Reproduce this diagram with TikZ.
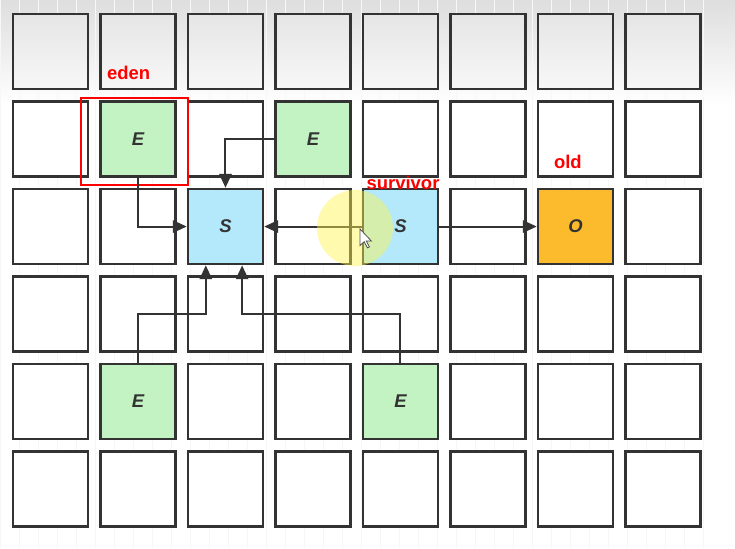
\documentclass[tikz,border=0pt]{standalone}
\usepackage{fontspec}
\setmainfont{Liberation Sans}
\usetikzlibrary{arrows.meta}
\definecolor{edenfill}{HTML}{C3F2C3}
\definecolor{survfill}{HTML}{B3E9FA}
\definecolor{oldfill}{HTML}{FBBB2C}
\definecolor{boxline}{HTML}{333333}
\tikzset{
  cell/.style={draw=boxline, line width=1.7pt, minimum size=1.714cm, inner sep=0pt,
    font=\fontsize{12}{14}\selectfont\bfseries\itshape, text=boxline},
  arr/.style={draw=boxline, line width=1.3pt, -{Triangle[length=9pt,width=8pt]}},
  tag/.style={text=red, font=\fontsize{12}{14}\selectfont\bfseries, inner sep=0pt, anchor=base}
}
\begin{document}
\begin{tikzpicture}[x=2cm,y=-2cm]
        \useasboundingbox (0,0) rectangle (8.4,6.263);
        \fill[white] (0,0) rectangle (8.4,6.263);
        \shade[top color=black!13, bottom color=white] (0,0) rectangle (8.4,1.2);
        \draw[black!3, line width=0.4pt, step=0.2171] (0,0) grid (8.17,6.263);
        % heap cells
        \foreach \i in {0,...,7} {
            \node[cell, top color=black!10, bottom color=black!3] (c-\i-0) at (0.577+\i,0.589) {};
            \foreach \j in {1,...,5}
                \node[cell, fill=white] (c-\i-\j) at (0.577+\i,0.589+\j) {};
        }
        \node[cell, fill=edenfill] (e1) at (c-1-1) {E};
        \node[cell, fill=edenfill] (e2) at (c-3-1) {E};
        \node[cell, fill=survfill] (s1) at (c-2-2) {S};
        \node[cell, fill=survfill] (s2) at (c-4-2) {S};
        \node[cell, fill=oldfill] (o1) at (c-6-2) {O};
        \node[cell, fill=edenfill] (e3) at (c-1-4) {E};
        \node[cell, fill=edenfill] (e4) at (c-4-4) {E};
        % labels
        \node[tag] (edenlbl) at (1.469,0.903) {eden};
        \node[tag] (survlbl) at (4.606,2.16) {survivor};
        \node[tag] (oldlbl) at (6.49,1.924) {old};
        \draw[red, line width=1.4pt] (0.926,1.117) rectangle (2.149,2.114);
        % copies
        \draw[arr] (e1.south) |- (s1.west);
        \draw[arr] (e2.west) -| (s1.north);
        \draw[arr] (s2.west) -- (s1.east);
        \draw[arr] (s2.east) -- (o1.west);
        \coordinate (s1l) at ([xshift=-0.45cm]s1.south);
        \coordinate (s1r) at ([xshift=0.38cm]s1.south);
        \draw[arr] (e3.north) |- (s1l |- c-1-3) -- (s1l);
        \draw[arr] (e4.north) |- (s1r |- c-1-3) -- (s1r);
        % pointer
        \fill[yellow!70!white, opacity=0.45] (4.057,2.606) circle (0.434);
        \filldraw[fill=white, draw=black!70, line width=0.5pt, shift={(4.114,2.617)}]
            (0,0) -- (0,0.19) -- (0.048,0.145) -- (0.085,0.215) -- (0.108,0.205)
            -- (0.072,0.137) -- (0.13,0.137) -- cycle;
    \end{tikzpicture}
\end{document}
